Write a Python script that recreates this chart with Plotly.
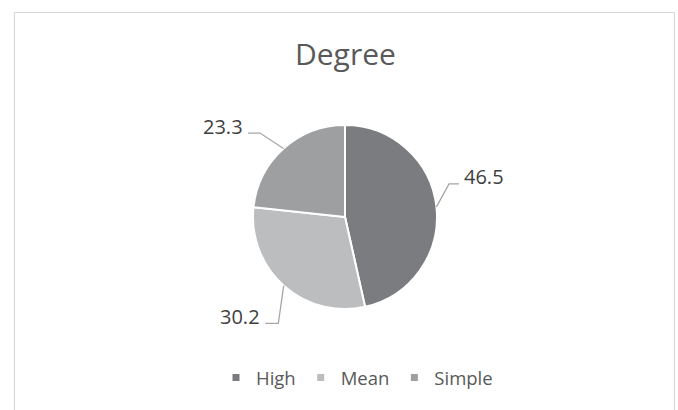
import math
import plotly.graph_objects as go

# ---- data ----
categories = ["High", "Mean", "Simple"]
values = [46.5, 30.2, 23.3]
value_labels = ["46.5", "30.2", "23.3"]
colors = ["#7b7c7f", "#bcbdbf", "#9e9fa1"]
title_text = "Degree"

# ---- layout parameters (pixels) ----
W, H = 678, 410
cx, cy, R = 345, 217, 92
# leader-line styling: elbow offset from slice edge and horizontal run
leader_elbow = [(12.6, -23), (-5.4, 37.7), (-23.5, -15.5)]
leader_run = [10, -13, -12]

fig = go.Figure()
fig.add_trace(go.Pie(
    labels=categories, values=values, sort=False, direction="clockwise",
    rotation=0, textinfo="none", hoverinfo="label+value",
    marker=dict(colors=colors, line=dict(color="white", width=2)),
    domain=dict(x=[(cx - R) / W, (cx + R) / W], y=[1 - (cy + R) / H, 1 - (cy - R) / H]),
    showlegend=False,
))

# legend entries as square markers
for c, col in zip(categories, colors):
    fig.add_trace(go.Scatter(x=[None], y=[None], mode="markers", name=c,
                             marker=dict(symbol="square", size=7, color=col),
                             showlegend=True))

shapes = []
annotations = []
total = sum(values)
acc = 0
for i, v in enumerate(values):
    mid = (acc + v / 2) / total * 2 * math.pi
    acc += v
    ex = cx + R * math.sin(mid)
    ey = cy - R * math.cos(mid)
    bx = ex + leader_elbow[i][0]
    by = ey + leader_elbow[i][1]
    tx = bx + leader_run[i]
    shapes.append(dict(type="path", xref="x", yref="y",
                       path=f"M{ex},{ey} L{bx},{by} L{tx},{by}",
                       line=dict(color="#a6a6a6", width=1.3)))
    right = leader_run[i] > 0
    annotations.append(dict(x=tx + (3 if right else -3), y=by - 7, xref="x", yref="y",
                            text=value_labels[i], showarrow=False,
                            xanchor="left" if right else "right", yanchor="middle",
                            font=dict(family="Open Sans", size=20, color="#404040")))

# chart border
shapes.append(dict(type="rect", xref="x", yref="y", x0=14.5, x1=674.5, y0=12.5, y1=425,
                   line=dict(color="#d9d9d9", width=1.2), fillcolor="rgba(0,0,0,0)"))

annotations.append(dict(x=cx, y=53, xref="x", yref="y", text=title_text, showarrow=False,
                        xanchor="center", yanchor="middle",
                        font=dict(family="Open Sans", size=30, color="#595959")))

fig.update_layout(
    width=W, height=H, margin=dict(l=0, r=0, t=0, b=0),
    paper_bgcolor="white", plot_bgcolor="white",
    xaxis=dict(range=[0, W], visible=False, domain=[0, 1], fixedrange=True),
    yaxis=dict(range=[H, 0], visible=False, domain=[0, 1], fixedrange=True),
    shapes=shapes, annotations=annotations,
    legend=dict(orientation="h", x=357 / W, xanchor="center", y=1 - 378 / H, yanchor="middle",
                font=dict(family="Open Sans", size=18.5, color="#595959"),
                itemwidth=30, bgcolor="rgba(0,0,0,0)"),
    showlegend=True,
)

fig.write_html("out.html", config={"displayModeBar": False},
               post_script="document.body.style.margin='0';document.body.style.overflow='hidden';")
